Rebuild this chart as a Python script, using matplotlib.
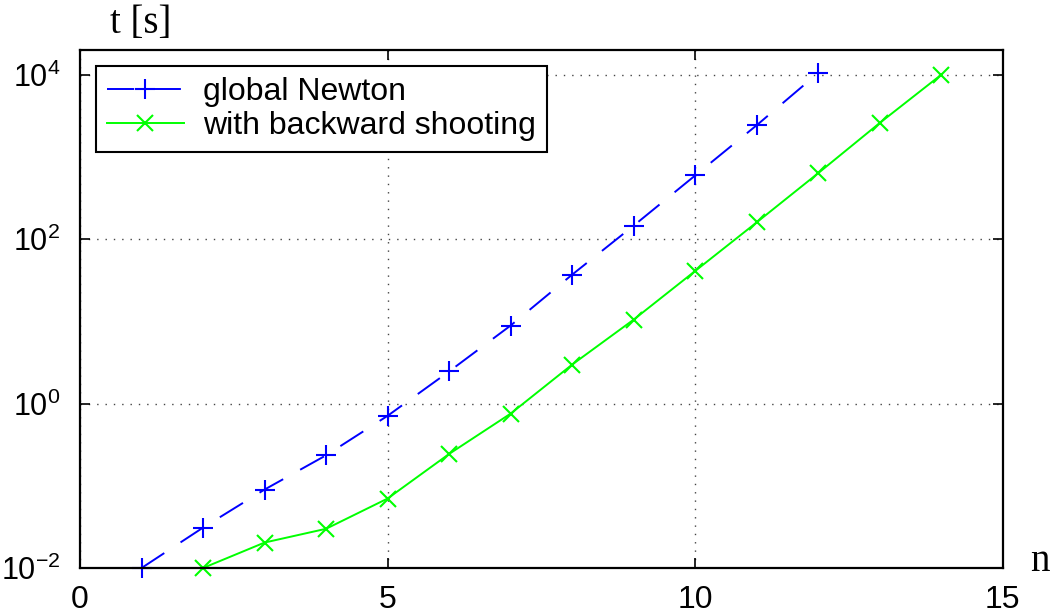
import matplotlib
matplotlib.use("Agg")
import matplotlib.pyplot as plt
from matplotlib.ticker import LogLocator, NullLocator

plt.rcParams["font.family"] = ["Liberation Sans", "DejaVu Sans"]
plt.rcParams["mathtext.fontset"] = "custom"
plt.rcParams["mathtext.rm"] = "Liberation Sans"
plt.rcParams["mathtext.it"] = "Liberation Sans:italic"
plt.rcParams["mathtext.bf"] = "Liberation Sans:bold"

# problem size n and run time t [s]
n_newton = [1, 2, 3, 4, 5, 6, 7, 8, 9, 10, 11, 12]
t_newton = [0.01, 0.031, 0.090, 0.235, 0.71, 2.46, 8.9, 37, 146, 595, 2430, 10500]

n_shoot = [2, 3, 4, 5, 6, 7, 8, 9, 10, 11, 12, 13, 14]
t_shoot = [0.01, 0.0204, 0.030, 0.070, 0.244, 0.755, 2.98, 10.5, 41, 160, 635, 2590, 10000]

labels = ["global Newton", "with backward shooting"]

fig = plt.figure(figsize=(10.5, 6.14), dpi=100)
ax = fig.add_axes([0.0762, 0.0749, 0.8788, 0.8437])

ax.plot(n_newton, t_newton, color="#0000ff", linestyle=(0, (14, 10)),
        linewidth=1.4, marker="+", markersize=15, markeredgewidth=1.5,
        label=labels[0], clip_on=False)
ax.plot(n_shoot, t_shoot, color="#00ff00", linestyle="-",
        linewidth=1.4, marker="x", markersize=11, markeredgewidth=1.5,
        label=labels[1], clip_on=False)

ax.set_yscale("log")
ax.set_xlim(0, 15)
ax.set_ylim(1e-2, 2e4)
ax.set_xticks([0, 5, 10, 15])
ax.yaxis.set_major_locator(LogLocator(base=100.0, numticks=10))
ax.yaxis.set_minor_locator(NullLocator())

ax.tick_params(axis="both", which="major", direction="in", length=7,
               width=1.2, top=True, right=True)
ax.tick_params(axis="x", pad=12, labelsize=23)
ax.tick_params(axis="y", pad=14, labelsize=22)
for s in ax.spines.values():
    s.set_linewidth(1.6)

ax.grid(True, which="major", linestyle=(0, (1, 5)), color="#444444",
        linewidth=1.0)

leg = ax.legend(loc="upper left", fontsize=23, frameon=True, fancybox=False,
                edgecolor="black", borderaxespad=0.5, handlelength=2.4,
                handletextpad=0.6, borderpad=0.35, labelspacing=0.12)
leg.get_frame().set_linewidth(1.5)
leg.get_frame().set_alpha(1)

fig.text(0.134, 0.962, "t [s]", family=["Liberation Serif", "DejaVu Serif"],
         fontsize=28, ha="center", va="center")
fig.text(0.99, 0.085, "n", family=["Liberation Serif", "DejaVu Serif"],
         fontsize=28, ha="center", va="center")

fig.savefig("out.png", dpi=100)
